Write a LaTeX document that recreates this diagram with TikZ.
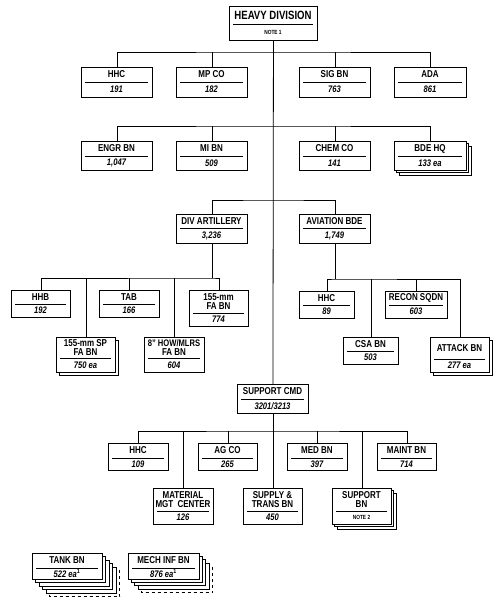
\documentclass[tikz,border=0pt]{standalone}
\usepackage{fontspec}
\setmainfont{Liberation Sans}
\newfontfamily\cond[FakeStretch=0.8]{Liberation Sans}
\tikzset{
 box/.style={draw, line width=0.9pt, fill=white, inner sep=0pt},
 uline/.style={line width=0.8pt},
 conn/.style={line width=0.8pt},
 ttl/.style={font=\cond\bfseries\fontsize{10}{9}\selectfont, align=center, inner sep=0pt},
 num/.style={font=\cond\bfseries\itshape\fontsize{9.5}{9.5}\selectfont, inner sep=0pt},
 dashlayer/.style={box, dashed},
}
% #1 name #2 left #3 top #4 right #5 bottom #6 underline y #7 title #8 number
\newcommand\obox[8]{%
 \node[box, anchor=north west, minimum width={(#4-#2)*1pt}, minimum height={(#5-#3)*1pt}] (#1) at (#2,#3) {};
 \draw[uline] ({#2+4},#6) -- ({#4-4},#6);
 \node[ttl] (#1-t) at ({(#2+#4)/2},{(#3+#6)/2}) {#7};
 \node[num] (#1-n) at ({(#2+#4)/2},{(#6+#5)/2}) {#8};
}
% stacked layers behind a box: #1 l #2 t #3 r #4 b #5 count #6 offset
\newcommand\stk[6]{\foreach \k in {#5,...,1}{\draw[box] ({#1+\k*#6},{#2+\k*#6}) rectangle ({#3+\k*#6},{#4+\k*#6});}}
\begin{document}
\begin{tikzpicture}[x=1pt,y=-1pt]
\fill[white] (0,0) rectangle (500,605);
\useasboundingbox (0,0) rectangle (500,605);

% top
\obox{hd}{229}{6}{317}{40}{24}{{\fontsize{12}{12}\selectfont HEAVY DIVISION}}{{\upshape\fontsize{6}{6}\selectfont NOTE 1}}
% row 1
\obox{hhc1}{81}{67}{152}{97}{82}{HHC}{191}
\obox{mp}{176}{67}{247}{97}{82}{MP CO}{182}
\obox{sig}{299}{67}{370}{97}{82}{SIG BN}{763}
\obox{ada}{394}{67}{466}{97}{82}{ADA}{861}
% row 2
\obox{engr}{81}{141}{152}{170}{156}{ENGR BN}{1,047}
\obox{mi}{176}{141}{247}{170}{156}{MI BN}{509}
\obox{chem}{299}{141}{370}{170}{156}{CHEM CO}{141}
\stk{394}{141}{466}{170}{2}{2.8}
\obox{bde}{394}{141}{466}{170}{156}{BDE HQ}{133 ea}
% row 3
\obox{da}{176}{214}{247}{243}{228}{DIV ARTILLERY}{3,236}
\obox{avn}{299}{214}{370}{243}{228}{AVIATION BDE}{1,749}
% artillery
\obox{hhb}{11}{290}{70}{317}{304}{HHB}{192}
\obox{tab}{99}{290}{159}{317}{304}{TAB}{166}
\obox{fa155}{189}{290}{248}{326}{313}{155-mm\\FA BN}{774}
\stk{56}{337}{115}{372}{1}{3}
\obox{sp155}{56}{337}{115}{372}{358}{155-mm SP\\FA BN}{750 ea}
\obox{how8}{144}{337}{204}{372}{358}{{\cond\fontsize{9.5}{9}\selectfont 8” HOW/MLRS}\\FA BN}{604}
% aviation
\obox{ahhc}{299}{291}{354}{318}{305}{HHC}{89}
\obox{recon}{385}{291}{447}{318}{305}{RECON SQDN}{603}
\obox{csa}{343}{337}{398}{364}{351}{CSA BN}{503}
\stk{430}{337}{489}{372}{1}{3}
\obox{atk}{430}{337}{489}{372}{359}{ATTACK BN}{277 ea}
% support command
\obox{sc}{237}{384}{308}{413}{399}{SUPPORT CMD}{3201/3213}
\obox{shhc}{108}{443}{168}{470}{458}{HHC}{109}
\obox{ag}{198}{443}{257}{470}{458}{AG CO}{265}
\obox{med}{287}{443}{347}{470}{458}{MED BN}{397}
\obox{maint}{377}{443}{436}{470}{458}{MAINT BN}{714}
\obox{mmc}{153}{488}{213}{524}{511}{MATERIAL\\MGT\hspace{2pt} CENTER}{126}
\obox{supply}{243}{488}{302}{524}{511}{SUPPLY \&\\TRANS BN}{450}
\stk{332}{488}{391}{524}{2}{2.8}
\obox{supbn}{332}{488}{391}{524}{511}{SUPPORT\\BN}{{\upshape\fontsize{6}{6}\selectfont NOTE 2}}
% bottom
\draw[dashlayer] ({32+5*3.5},{553+5*3.5}) rectangle ({102+5*3.5},{579+5*3.5});
\stk{32}{553}{102}{579}{4}{3.5}
\obox{tank}{32}{553}{102}{579}{568}{TANK BN}{522 ea\textsuperscript{\upshape 1}}
\draw[dashlayer] ({128+4*3.4},{553+4*3.4}) rectangle ({199+4*3.4},{579+4*3.4});
\stk{128}{553}{199}{579}{3}{3.4}
\obox{mech}{128}{553}{199}{579}{568}{MECH INF BN}{876 ea\textsuperscript{\upshape 1}}

% connectors
\coordinate (b1) at (273,52);
\coordinate (b2) at (273,126);
\coordinate (b3) at (273,200);
\coordinate (b4) at (da.south |- 0,278);
\coordinate (b5) at (avn.south |- 0,279);
\coordinate (b6) at (273,431);
\draw[conn] (hd.south) -- (sc.north);
\draw[conn] (hhc1.north) |- (b1) -| (ada.north);
\draw[conn] (mp.north) -- (mp.north |- b1);
\draw[conn] (sig.north) -- (sig.north |- b1);
\draw[conn] (engr.north) |- (b2) -| (bde.north);
\draw[conn] (mi.north) -- (mi.north |- b2);
\draw[conn] (chem.north) -- (chem.north |- b2);
\draw[conn] (da.north) |- (b3) -| (avn.north);
\draw[conn] (da.south) -- (b4);
\draw[conn] (hhb.north) |- (b4) -| (fa155.north);
\draw[conn] (sp155.north) -- (sp155.north |- b4);
\draw[conn] (tab.north) -- (tab.north |- b4);
\draw[conn] (how8.north) -- (how8.north |- b4);
\draw[conn] (avn.south) -- (b5);
\draw[conn] (ahhc.north) |- (b5) -| (atk.north);
\draw[conn] (csa.north) -- (csa.north |- b5);
\draw[conn] (recon.north) -- (recon.north |- b5);
\draw[conn] (sc.south) -- (supply.north);
\draw[conn] (shhc.north) |- (b6) -| (maint.north);
\draw[conn] (mmc.north) -- (mmc.north |- b6);
\draw[conn] (ag.north) -- (ag.north |- b6);
\draw[conn] (med.north) -- (med.north |- b6);
\draw[conn] (supbn.north) -- (supbn.north |- b6);
\end{tikzpicture}
\end{document}
